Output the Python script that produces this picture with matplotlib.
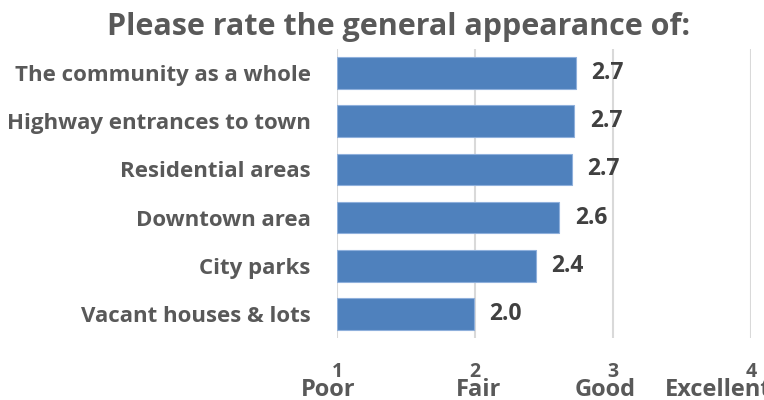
import numpy as np
import matplotlib.pyplot as plt
from matplotlib.transforms import blended_transform_factory

plt.rcParams['font.family'] = ['Open Sans', 'DejaVu Sans']

categories = ['The community as a whole', 'Highway entrances to town',
              'Residential areas', 'Downtown area', 'City parks',
              'Vacant houses & lots']
scores = [2.73, 2.72, 2.70, 2.61, 2.44, 1.99]
tick_vals = [1, 2, 3, 4]
tick_names = ['Poor', 'Fair', 'Good', 'Excellent']
# left edge of each rating word, in x units (they sit off-centre under the ticks)
name_left = [0.737, 1.862, 2.725, 3.377]

fig = plt.figure(figsize=(7.64, 4.0), dpi=100)
ax = fig.add_axes([337/764, 1-338/400, (751-337)/764, (338-49)/400])

y = np.arange(len(categories))[::-1]
base = tick_vals[0]
widths = [s - base for s in scores]
ax.barh(y, widths, left=base, height=0.655, color='#4F81BD',
        edgecolor='#8FB0DC', linewidth=0.8, zorder=3)

for yi, s in zip(y, scores):
    ax.text(s + 0.115, yi, f'{s:.1f}', va='center', ha='left',
            fontsize=16.5, fontweight='bold', color='#404040')

ax.set_xlim(1, 4)
ax.set_ylim(-0.5, len(categories) - 0.5)
ax.set_xticks(tick_vals)
ax.set_xticklabels([str(v) for v in tick_vals], fontsize=14,
                   fontweight='bold', color='#595959')
ax.set_yticks(y)
ax.set_yticklabels(categories, fontsize=16, fontweight='bold', color='#595959')
ax.tick_params(axis='x', length=0, pad=17)
ax.tick_params(axis='y', length=0, pad=19)
ax.grid(axis='x', color='#D9D9D9', linewidth=1.5, zorder=0)
for sp in ax.spines.values():
    sp.set_visible(False)

# rating words under the numbers
trans = blended_transform_factory(ax.transData, fig.transFigure)
for xl, name in zip(name_left, tick_names):
    ax.text(xl, 1-396/400, name, transform=trans, ha='left', va='baseline',
            fontsize=17, fontweight='bold', color='#595959', clip_on=False)

fig.text(399/764, 1-27/400, 'Please rate the general appearance of:',
         ha='center', va='center', fontsize=22, fontweight='bold',
         color='#595959')

fig.savefig('out.png', dpi=100)
